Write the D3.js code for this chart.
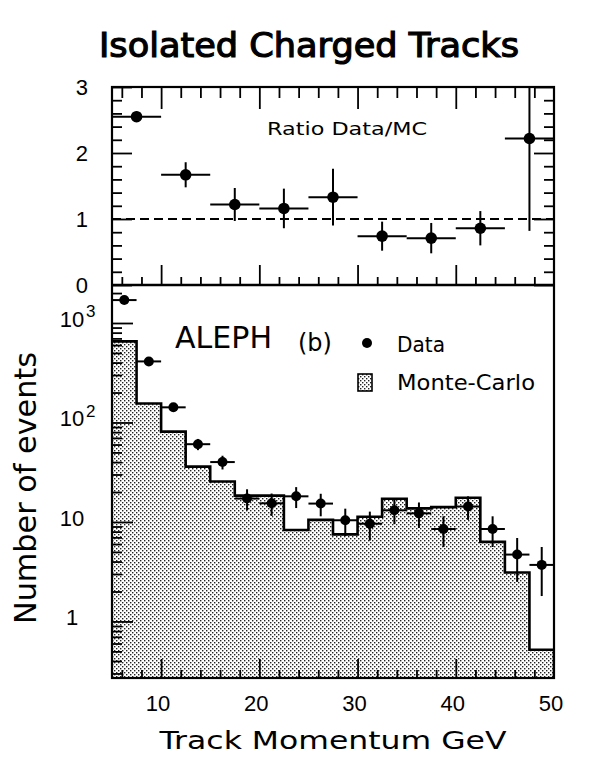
<!DOCTYPE html>
<html><head><meta charset="utf-8">
<script src="https://cdn.jsdelivr.net/npm/d3@7"></script>
<style>body{margin:0;background:#fff}</style>
</head><body><svg id="c" width="591" height="757" xmlns="http://www.w3.org/2000/svg"></svg>
<script>
// ---- data ----
const ratioBinLo = [5, 10, 15, 20, 25, 30, 35, 40, 45];
const ratioBinHi = [10, 15, 20, 25, 30, 35, 40, 45, 50];
const ratioValues = [2.55, 1.67, 1.22, 1.16, 1.33, 0.74, 0.71, 0.86, 2.22];
const ratioErrors = [0.08, 0.19, 0.25, 0.30, 0.43, 0.22, 0.23, 0.26, 1.40];

const binLo = [5, 7.5, 10, 12.5, 15, 17.5, 20, 22.5, 25, 27.5, 30, 32.5, 35, 37.5, 40, 42.5, 45, 47.5];
const binHi = [7.5, 10, 12.5, 15, 17.5, 20, 22.5, 25, 27.5, 30, 32.5, 35, 37.5, 40, 42.5, 45, 47.5, 50];
const mcValues = [653, 155, 81, 36, 25.5, 18.4, 18.4, 8.3, 10.5, 7.5, 11.3, 17.1, 13.7, 14.1, 17.5, 6.3, 3.1, 0.52];
const dataValues = [1700, 411, 142, 60.5, 40, 17.2, 15.4, 18.1, 15.3, 10.4, 9.6, 13.1, 12.2, 8.5, 14.3, 8.5, 4.7, 3.7];
const dataErrors = [41, 20, 12, 7.8, 6.3, 4.1, 3.9, 4.3, 3.9, 3.2, 3.1, 3.6, 3.5, 2.9, 3.8, 2.9, 2.2, 1.9];

const xMajorTicks = [10, 20, 30, 40, 50];
const xMinorTicks = [6, 8, 12, 14, 16, 18, 22, 24, 26, 28, 32, 34, 36, 38, 42, 44, 46, 48];
const ratioMajorTicks = [0, 1, 2, 3];
const ratioMinorTicks = [0.2, 0.4, 0.6, 0.8, 1.2, 1.4, 1.6, 1.8, 2.2, 2.4, 2.6, 2.8];
const logMajorTicks = [1, 10, 100, 1000];
const logMajorLabels = [["1", ""], ["10", ""], ["10", "2"], ["10", "3"]];

const titleText = "Isolated Charged Tracks";
const xTitle = "Track Momentum GeV";
const yTitle = "Number of events";

// ---- layout ----
const L = 112, R = 554, T = 87, MID = 285, B = 678;
const svg = d3.select("#c");
const FONT = "DejaVu Sans, Lato, sans-serif";
const LFONT = "Liberation Sans, Arial, sans-serif";

const x = d3.scaleLinear([5, 50], [L, R]);
const yR = d3.scaleLinear([0, 3], [MID, T]);
const yL = d3.scaleLog([0.27, 2410], [B, MID]);

// stipple pattern
const defs = svg.append("defs");
const pat = defs.append("pattern").attr("id", "stip").attr("patternUnits", "userSpaceOnUse")
  .attr("width", 4).attr("height", 4);
pat.append("rect").attr("width", 4).attr("height", 4).attr("fill", "#fff");
pat.append("rect").attr("x", 0).attr("y", 0).attr("width", 1.4).attr("height", 1.4).attr("fill", "#222");
pat.append("rect").attr("x", 2).attr("y", 2).attr("width", 1.4).attr("height", 1.4).attr("fill", "#222");
defs.append("clipPath").attr("id", "clipTop").append("rect").attr("x", L).attr("y", T).attr("width", R - L).attr("height", MID - T);
defs.append("clipPath").attr("id", "clipBot").append("rect").attr("x", L).attr("y", MID).attr("width", R - L).attr("height", B - MID);

// title
svg.append("text").attr("x", 309).attr("y", 57).attr("text-anchor", "middle")
  .attr("font-family", FONT).attr("font-size", 34).attr("font-weight", "normal")
  .attr("stroke", "#000").attr("stroke-width", 1.2)
  .attr("textLength", 420).attr("lengthAdjust", "spacingAndGlyphs").text(titleText);

// ---- MC histogram ----
const botG = svg.append("g").attr("clip-path", "url(#clipBot)");
const area = [];
mcValues.forEach((v, i) => { area.push([x(binLo[i]), yL(v)]); area.push([x(binHi[i]), yL(v)]); });
const areaPath = "M" + x(5) + "," + B + "L" + area.map(p => p.join(",")).join("L") + "L" + x(50) + "," + B + "Z";
botG.append("path").attr("d", areaPath).attr("fill", "url(#stip)");
botG.append("path").attr("d", "M" + area.map(p => p.join(",")).join("L") + "L" + x(50) + "," + B)
  .attr("fill", "none").attr("stroke", "#000").attr("stroke-width", 2.6);

// data points bottom
dataValues.forEach((v, i) => {
  const cx = x((binLo[i] + binHi[i]) / 2), cy = yL(v);
  botG.append("line").attr("x1", x(binLo[i])).attr("x2", x(binHi[i])).attr("y1", cy).attr("y2", cy)
    .attr("stroke", "#000").attr("stroke-width", 2);
  botG.append("line").attr("x1", cx).attr("x2", cx).attr("y1", yL(v + dataErrors[i])).attr("y2", yL(Math.max(v - dataErrors[i], 0.28)))
    .attr("stroke", "#000").attr("stroke-width", 2);
  botG.append("circle").attr("cx", cx).attr("cy", cy).attr("r", 5).attr("fill", "#000");
});

// ---- ratio panel ----
const topG = svg.append("g").attr("clip-path", "url(#clipTop)");
topG.append("line").attr("x1", x(5)).attr("x2", x(50)).attr("y1", yR(1)).attr("y2", yR(1))
  .attr("stroke", "#000").attr("stroke-width", 1.8).attr("stroke-dasharray", "9,5");
ratioValues.forEach((v, i) => {
  const cx = x((ratioBinLo[i] + ratioBinHi[i]) / 2), cy = yR(v);
  topG.append("line").attr("x1", x(ratioBinLo[i])).attr("x2", x(ratioBinHi[i])).attr("y1", cy).attr("y2", cy)
    .attr("stroke", "#000").attr("stroke-width", 2);
  topG.append("line").attr("x1", cx).attr("x2", cx).attr("y1", yR(v + ratioErrors[i])).attr("y2", yR(v - ratioErrors[i]))
    .attr("stroke", "#000").attr("stroke-width", 2);
  topG.append("circle").attr("cx", cx).attr("cy", cy).attr("r", 5.8).attr("fill", "#000");
});

// ---- frames ----
svg.append("rect").attr("x", L).attr("y", T).attr("width", R - L).attr("height", B - T)
  .attr("fill", "none").attr("stroke", "#000").attr("stroke-width", 2.2);
svg.append("line").attr("x1", L).attr("x2", R).attr("y1", MID).attr("y2", MID)
  .attr("stroke", "#000").attr("stroke-width", 2.4);

// ---- ticks ----
function ticks(axisFn, scale, vals, size, tx, ty) {
  const g = svg.append("g").attr("transform", `translate(${tx},${ty})`)
    .call(axisFn(scale).tickValues(vals).tickSize(-size).tickFormat(""));
  g.select(".domain").remove();
  g.selectAll("line").attr("stroke", "#000").attr("stroke-width", 1.8);
  return g;
}
// top panel
ticks(d3.axisLeft, yR, ratioMinorTicks, 10, L, 0);
ticks(d3.axisLeft, yR, ratioMajorTicks, 20, L, 0);
ticks(d3.axisRight, yR, ratioMinorTicks, 10, R, 0);
ticks(d3.axisRight, yR, ratioMajorTicks, 20, R, 0);
ticks(d3.axisTop, x, xMinorTicks, 11, 0, T);
ticks(d3.axisTop, x, xMajorTicks.slice(0, 4), 22, 0, T);
ticks(d3.axisBottom, x, xMinorTicks, 8, 0, MID);
ticks(d3.axisBottom, x, xMajorTicks.slice(0, 4), 20, 0, MID);
// bottom panel
const logMinor = yL.ticks().filter(v => logMajorTicks.indexOf(v) < 0);
ticks(d3.axisLeft, yL, logMinor, 10, L, 0);
ticks(d3.axisLeft, yL, logMajorTicks, 21, L, 0);
ticks(d3.axisBottom, x, xMinorTicks, 8, 0, B);
ticks(d3.axisBottom, x, xMajorTicks.slice(0, 4), 19, 0, B);

// ---- tick labels ----
ratioMajorTicks.forEach(v => {
  svg.append("text").attr("x", 88).attr("y", yR(v)).attr("dy", "0.36em").attr("text-anchor", "end")
    .attr("font-family", LFONT).attr("font-size", 22).text(String(v));
});
logMajorTicks.forEach((v, i) => {
  const [base, sup] = logMajorLabels[i];
  svg.append("text").attr("x", 72).attr("y", yL(v) - 4).attr("dy", "0.36em").attr("text-anchor", "middle")
    .attr("font-family", LFONT).attr("font-size", 22).text(base);
  if (sup) svg.append("text").attr("x", 86).attr("y", yL(v) - 12).attr("dy", "0.36em")
    .attr("font-family", LFONT).attr("font-size", 17).text(sup);
});
xMajorTicks.forEach(v => {
  svg.append("text").attr("x", x(v) - 3).attr("y", 711).attr("text-anchor", "middle")
    .attr("font-family", LFONT).attr("font-size", 22).text(String(v));
});

// ---- titles ----
svg.append("text").attr("x", 333).attr("y", 749).attr("text-anchor", "middle")
  .attr("font-family", FONT).attr("font-size", 25).attr("textLength", 347).attr("lengthAdjust", "spacingAndGlyphs").text(xTitle);
svg.append("text").attr("transform", "translate(36,488) rotate(-90)").attr("text-anchor", "middle")
  .attr("font-family", FONT).attr("font-size", 30).attr("textLength", 272).attr("lengthAdjust", "spacingAndGlyphs").text(yTitle);

// ---- annotations / legend ----
svg.append("text").attr("x", 267).attr("y", 135).attr("font-family", FONT).attr("font-size", 17)
  .attr("textLength", 160).attr("lengthAdjust", "spacingAndGlyphs").text("Ratio Data/MC");
svg.append("text").attr("x", 175).attr("y", 348).attr("font-family", FONT).attr("font-size", 30)
  .attr("textLength", 97).attr("lengthAdjust", "spacingAndGlyphs").text("ALEPH");
svg.append("text").attr("x", 298).attr("y", 351).attr("font-family", FONT).attr("font-size", 24).text("(b)");
svg.append("circle").attr("cx", 367).attr("cy", 343).attr("r", 5).attr("fill", "#000");
svg.append("text").attr("x", 397).attr("y", 352).attr("font-family", FONT).attr("font-size", 21)
  .attr("textLength", 48).attr("lengthAdjust", "spacingAndGlyphs").text("Data");
svg.append("rect").attr("x", 358).attr("y", 374).attr("width", 14).attr("height", 17)
  .attr("fill", "url(#stip)").attr("stroke", "#000").attr("stroke-width", 1.6);
svg.append("text").attr("x", 397).attr("y", 390).attr("font-family", FONT).attr("font-size", 21)
  .attr("textLength", 138).attr("lengthAdjust", "spacingAndGlyphs").text("Monte-Carlo");
</script>
</body></html>
